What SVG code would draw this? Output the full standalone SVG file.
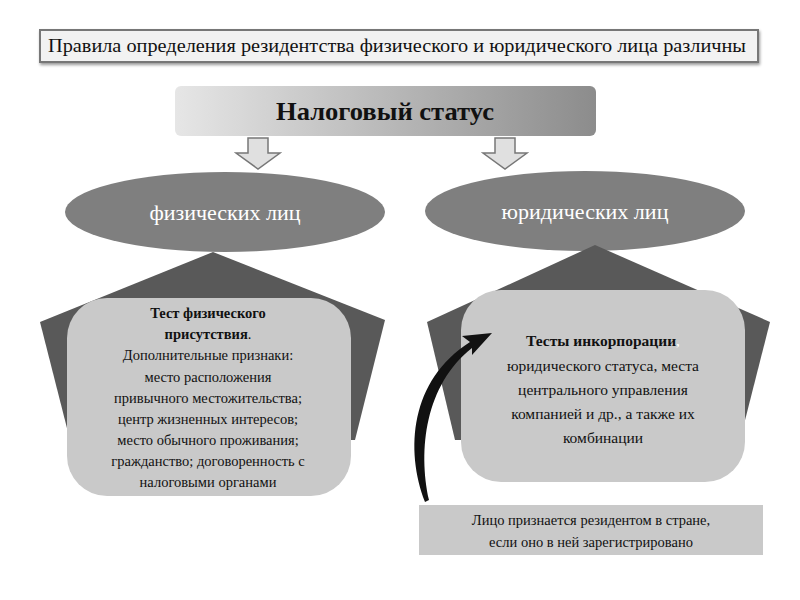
<svg xmlns="http://www.w3.org/2000/svg" width="800" height="600" viewBox="0 0 800 600">
<defs>
<linearGradient id="hg" x1="0" y1="0" x2="1" y2="0"><stop offset="0" stop-color="#e6e6e6"/><stop offset="1" stop-color="#8c8c8c"/></linearGradient>
<filter id="sh" x="-10%" y="-10%" width="120%" height="130%"><feDropShadow dx="1" dy="2" stdDeviation="1.5" flood-color="#000" flood-opacity="0.4"/></filter>
</defs>
<style>
text{font-family:"Liberation Serif","DejaVu Serif",serif;text-anchor:middle}
.t{font-size:14.5px;fill:#111}
.e{font-size:22px;fill:#fff}
.b{font-weight:bold}
</style>
<rect width="800" height="600" fill="#fff"/>
<g id="title"><rect x="40" y="30" width="718" height="32" fill="#f2f2f2" stroke="#777" stroke-width="2" filter="url(#sh)"/><text x="397" y="52" style="font-size:18px" fill="#111" textLength="698" lengthAdjust="spacingAndGlyphs">Правила определения резидентства физического и юридического лица различны</text></g>
<g id="status"><rect x="175" y="86" width="421" height="50" rx="6" fill="url(#hg)"/><text x="385" y="120" class="b" style="font-size:25px" fill="#111" textLength="218" lengthAdjust="spacingAndGlyphs">Налоговый статус</text></g>
<g id="phys-ell"><ellipse cx="225" cy="212" rx="160" ry="40" fill="#7f7f7f"/><text x="225" y="220" class="e">физических лиц</text></g>
<g id="jur-ell"><ellipse cx="585" cy="211" rx="160" ry="40" fill="#7f7f7f"/><text x="585" y="219" class="e">юридических лиц</text></g>
<g id="phys-shape"><polygon points="213,252 385,320 355,440 70,440 40,322" fill="#595959"/></g>
<g id="jur-shape"><polygon points="595,245 770,322 740,440 455,440 427,322" fill="#595959"/></g>
<g id="phys-box"><rect x="67" y="298" width="284" height="198" rx="40" fill="#c9c9c9"/>
<text class="t"><tspan x="208" y="318" class="b">Тест физического</tspan><tspan x="208" y="339"><tspan class="b">присутствия</tspan>.</tspan><tspan x="208" y="360">Дополнительные признаки:</tspan><tspan x="208" y="382">место расположения</tspan><tspan x="208" y="403">привычного местожительства;</tspan><tspan x="208" y="424">центр жизненных интересов;</tspan><tspan x="208" y="445">место обычного проживания;</tspan><tspan x="208" y="466">гражданство; договоренность с</tspan><tspan x="208" y="487">налоговыми органами</tspan></text></g>
<g id="jur-box"><rect x="461" y="290" width="284" height="192" rx="40" fill="#c9c9c9"/>
<text class="t" style="font-size:15.5px"><tspan x="603" y="346"><tspan class="b">Тесты  инкорпорации</tspan><tspan fill="#fff">,</tspan></tspan><tspan x="603" y="371">юридического статуса, места</tspan><tspan x="603" y="395">центрального управления</tspan><tspan x="603" y="419">компанией и др., а также их</tspan><tspan x="603" y="443">комбинации</tspan></text></g>
<g id="note"><rect x="419" y="505" width="344" height="50" fill="#c9c9c9"/><text class="t"><tspan x="591" y="525">Лицо признается резидентом в стране,</tspan><tspan x="591" y="547">если оно в ней зарегистрировано</tspan></text></g>
<g id="connectors">
<path d="M248,138 h20 v15 h12 l-22,16 l-22,-16 h12 z" fill="#e0e0e0" stroke="#777" stroke-width="1.5"/>
<path d="M495,138 h20 v15 h12 l-22,16 l-22,-16 h12 z" fill="#e0e0e0" stroke="#777" stroke-width="1.5"/>
<path d="M425,502 C405,450 410,380 470,342 L462,336 L492,333 L472,355 L472,348 C425,385 418,450 429,500 Z" fill="#111"/>
</g>
</svg>
